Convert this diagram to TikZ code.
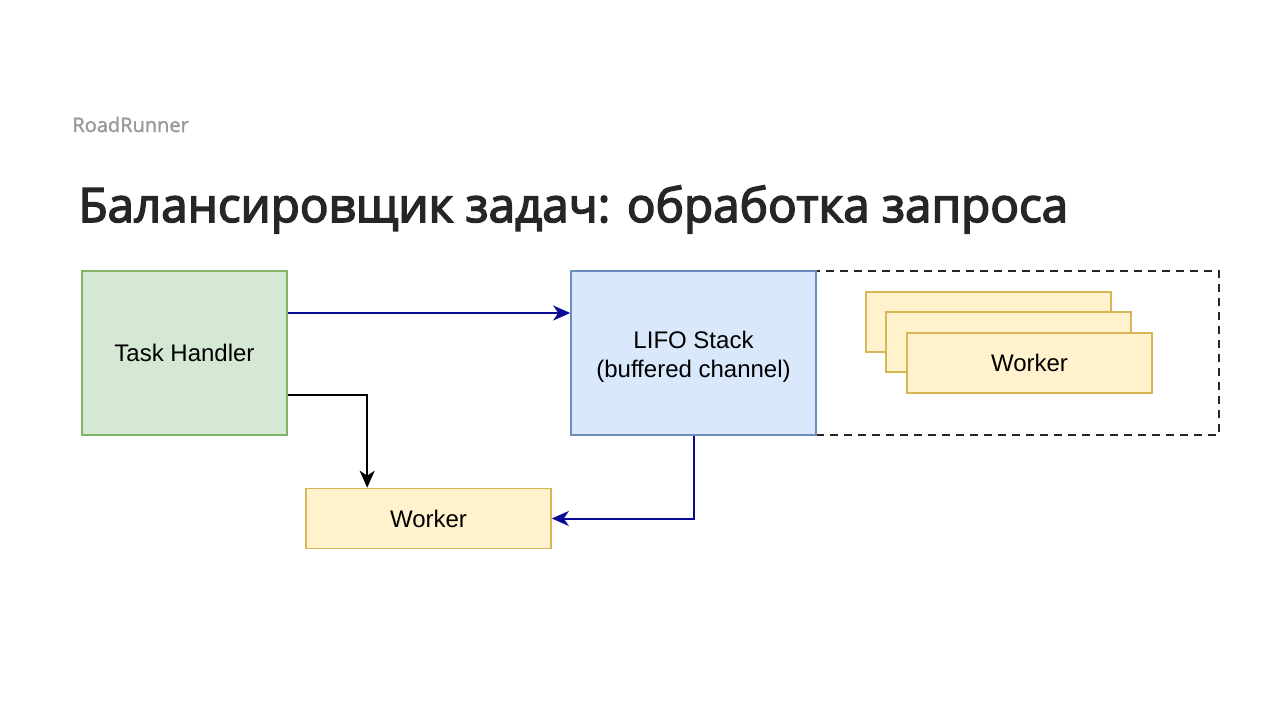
\documentclass[tikz,border=0pt]{standalone}
\usepackage{fontspec}
\setmainfont{Liberation Sans}
\newfontfamily\titlefont{Open Sans}[BoldFont={Open Sans},BoldFeatures={FakeBold=1.6}]
\newfontfamily\headfont{Open Sans}[FakeBold=3.2]
\usetikzlibrary{arrows.meta}
\definecolor{thfill}{HTML}{D5E8D4}
\definecolor{thline}{HTML}{82B366}
\definecolor{lififill}{HTML}{DAE8FC}
\definecolor{lifline}{HTML}{6C8EBF}
\definecolor{wkfill}{HTML}{FFF2CC}
\definecolor{wkline}{HTML}{D6B656}
\definecolor{arrblue}{HTML}{0A0A99}
\definecolor{titlecol}{HTML}{262626}
\definecolor{brandcol}{HTML}{9A9A9A}
\tikzset{
  boxbase/.style={draw, line width=0.8pt, inner sep=0pt, align=center, font=\fontsize{12pt}{14.5pt}\selectfont},
  thbox/.style={boxbase, fill=thfill, draw=thline, minimum width=102.5pt, minimum height=82pt},
  lifobox/.style={boxbase, fill=lififill, draw=lifline, minimum width=122.5pt, minimum height=82pt},
  wkbox/.style={boxbase, fill=wkfill, draw=wkline, minimum width=122.5pt, minimum height=30pt},
  poolbox/.style={draw=black!85, dashed, dash pattern=on 4pt off 3pt, line width=0.75pt, minimum width=201.5pt, minimum height=82pt, inner sep=0pt},
  conn/.style={line width=1pt, -{Stealth[length=8.5pt,width=7.5pt,inset=2.5pt]}},
}
\begin{document}
\begin{tikzpicture}[x=0.5pt,y=-0.5pt]
\useasboundingbox[fill=white] (0,0) rectangle (1280,720);
\node[anchor=base west, inner sep=0pt, text=brandcol, font=\titlefont\bfseries\fontsize{10pt}{12pt}\selectfont] (brand) at (72,132) {RoadRunner};
\node[anchor=base west, inner sep=0pt, text=titlecol, font=\headfont\fontsize{23.8pt}{28pt}\selectfont] (title) at (78,222) {Балансировщик задач: обработка запроса};
\node[poolbox] (pool) at (1017.5,353) {};
\node[thbox] (th) at (184.5,353) {Task Handler};
\node[lifobox] (lifo) at (693.5,353) {\rule{0pt}{12.5pt}LIFO Stack\\(buffered channel)};
\node[wkbox] (wk1) at (988.5,322) {};
\node[wkbox] (wk2) at (1008.5,342) {};
\node[wkbox] (wk3) at (1029.5,363) {Worker};
\node[wkbox] (bw) at (428.5,518.5) {Worker};
\draw[conn, arrblue] ([yshift=20pt]th.east) -- ([yshift=20pt]lifo.west);
\draw[conn, black] ([yshift=-21pt]th.east) -| ([xshift=31pt]bw.north west);
\draw[conn, arrblue] (lifo.south) |- (bw.east);
\end{tikzpicture}
\end{document}
